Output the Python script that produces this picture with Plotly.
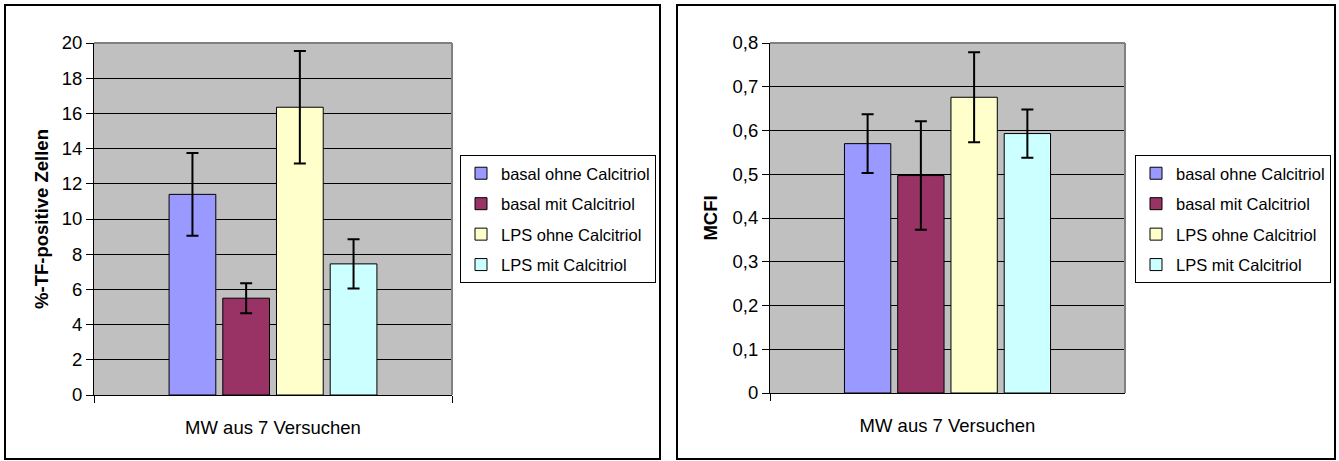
import plotly.graph_objects as go

W, H = 1339, 461

# ---- data ----
category = ["MW aus 7 Versuchen"]
series_names = ["basal ohne Calcitriol", "basal mit Calcitriol", "LPS ohne Calcitriol", "LPS mit Calcitriol"]
colors = ["#9999ff", "#993366", "#ffffcc", "#ccffff"]

tf_values = [11.4, 5.5, 16.35, 7.45]
tf_errors = [2.35, 0.85, 3.2, 1.4]

mcfi_values = [0.570, 0.497, 0.676, 0.593]
mcfi_errors = [0.067, 0.124, 0.103, 0.055]

left_ticks = [0, 2, 4, 6, 8, 10, 12, 14, 16, 18, 20]
right_ticks = [0, 0.1, 0.2, 0.3, 0.4, 0.5, 0.6, 0.7, 0.8]

FONT = "Liberation Sans, Arial, sans-serif"

def px_x(p):
    return p / W

def px_y(p):
    return 1 - p / H

fig = go.Figure()

for i, name in enumerate(series_names):
    fig.add_trace(go.Bar(
        x=category, y=[tf_values[i]], name=name,
        marker=dict(color=colors[i], line=dict(color="black", width=1)),
        error_y=dict(type="data", array=[tf_errors[i]], color="black", thickness=2, width=6),
        xaxis="x", yaxis="y", legend="legend", legendgroup="L%d" % i,
    ))
for i, name in enumerate(series_names):
    fig.add_trace(go.Bar(
        x=category, y=[mcfi_values[i]], name=name,
        marker=dict(color=colors[i], line=dict(color="black", width=1)),
        error_y=dict(type="data", array=[mcfi_errors[i]], color="black", thickness=2, width=6),
        xaxis="x2", yaxis="y2", legend="legend2", legendgroup="R%d" % i,
    ))

xcommon = dict(type="category", tickson="boundaries", ticks="outside", ticklen=7,
               tickcolor="black", showline=True, linecolor="black", linewidth=1,
               showgrid=False, tickfont=dict(family=FONT, size=18.5, color="black"),
               ticklabelstandoff=16, fixedrange=True, automargin=False)
ycommon = dict(ticks="outside", ticklen=7, tickcolor="black", showline=True,
               linecolor="black", linewidth=1, showgrid=True, gridcolor="black",
               gridwidth=1, zeroline=False, tickfont=dict(family=FONT, size=18.5, color="black"),
               fixedrange=True, automargin=False)

legcommon = dict(bgcolor="white", bordercolor="black", borderwidth=1,
                 font=dict(family=FONT, size=16.5, color="black"),
                 xanchor="left", yanchor="top", traceorder="grouped",
                 tracegroupgap=6, itemclick=False, itemdoubleclick=False)

fig.update_layout(
    width=W, height=H, autosize=False,
    margin=dict(l=0, r=0, t=0, b=0, pad=0),
    paper_bgcolor="white", plot_bgcolor="#c0c0c0",
    separators=", ",
    barmode="group", bargap=0.4, bargroupgap=0.13,
    showlegend=True,
    xaxis=dict(domain=[px_x(94), px_x(452)], anchor="y", **xcommon),
    yaxis=dict(domain=[px_y(395), px_y(43)], anchor="x", range=[0, 20], tickvals=left_ticks,
               title=dict(text="<b>%-TF-positive Zellen</b>", standoff=8,
                          font=dict(family=FONT, size=18.5, color="black")),
               **ycommon),
    xaxis2=dict(domain=[px_x(770), px_x(1125)], anchor="y2", **xcommon),
    yaxis2=dict(domain=[px_y(393), px_y(43)], anchor="x2", range=[0, 0.8], tickvals=right_ticks,
                title=dict(text="<b>MCFI</b>", standoff=10,
                           font=dict(family=FONT, size=18.5, color="black")),
                **ycommon),
    legend=dict(x=px_x(460), y=px_y(155), **legcommon),
    legend2=dict(x=px_x(1135), y=px_y(155), **legcommon),
    shapes=[
        # outer chart frames
        dict(type="rect", xref="paper", yref="paper", x0=px_x(5), x1=px_x(660),
             y0=px_y(459), y1=px_y(5), line=dict(color="black", width=2), layer="below"),
        dict(type="rect", xref="paper", yref="paper", x0=px_x(677), x1=px_x(1335),
             y0=px_y(459), y1=px_y(5), line=dict(color="black", width=2), layer="below"),
        # grey top/right plot-area borders
        dict(type="line", xref="x domain", yref="y domain", x0=0, x1=1, y0=1, y1=1,
             line=dict(color="#808080", width=2)),
        dict(type="line", xref="x domain", yref="y domain", x0=1, x1=1, y0=0, y1=1,
             line=dict(color="#808080", width=2)),
        dict(type="line", xref="x2 domain", yref="y2 domain", x0=0, x1=1, y0=1, y1=1,
             line=dict(color="#808080", width=2)),
        dict(type="line", xref="x2 domain", yref="y2 domain", x0=1, x1=1, y0=0, y1=1,
             line=dict(color="#808080", width=2)),
    ],
)

POST = (
    "var gd=document.getElementById('{plot_id}');"
    "var par=gd.parentNode;"
    "document.body.insertBefore(gd, document.body.firstChild);"
    "if(par && par!==document.body){par.style.display='none';}"
    "gd.style.position='fixed';gd.style.top='0px';gd.style.left='0px';gd.style.margin='0';"
    "document.documentElement.style.margin='0';document.documentElement.style.padding='0';"
    "document.body.style.margin='0';document.body.style.padding='0';"
)

fig.write_html("out.html", config={"displayModeBar": False}, post_script=POST)
